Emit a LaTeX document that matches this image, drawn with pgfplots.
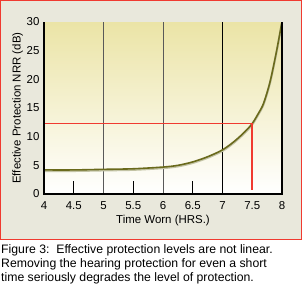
\documentclass[border=0pt]{standalone}
\usepackage{pgfplots}
\pgfplotsset{compat=1.18}
\usepackage{fontspec}
\setmainfont{Liberation Sans}
\definecolor{outerbg}{HTML}{E9E8DC}
\definecolor{plottop}{HTML}{EBE4A6}
\definecolor{curvecol}{HTML}{6A6A1C}
\definecolor{redl}{HTML}{F03A30}
\begin{document}
\begin{tikzpicture}[x=1bp,y=1bp]
\useasboundingbox (0,0) rectangle (302,-299);
\fill[white] (0,0) rectangle (302,-299);
\fill[outerbg] (0,0) rectangle (302,-240);
\draw[redl,line width=1.3bp] (0.65,-0.65) rectangle (301.35,-239.5);
\begin{axis}[
  at={(44bp,-194bp)}, anchor=south west,
  scale only axis, width=238bp, height=172bp,
  xmin=4, xmax=8, ymin=0, ymax=30,
  xtick={4,4.5,...,8}, ytick={0,5,...,30},
  xticklabels={4,4.5,5,5.5,6,6.5,7,7.5,8},
  yticklabels={0,5,10,15,20,25,30},
  major tick length=0pt,
  axis line style={draw=none},
  axis background/.style={top color=plottop, bottom color=white},
  tick label style={font=\fontsize{11.5}{13}\selectfont, text=black},
  xticklabel style={yshift=-4bp},
  yticklabel style={xshift=-1bp},
  xlabel={Time Worn (HRS.)},
  ylabel={Effective Protection NRR (dB)},
  label style={font=\fontsize{11.5}{13}\selectfont},
  xlabel style={yshift=1bp},
  ylabel style={yshift=-3bp},
  clip=false,
]
\addplot[gray!70!black, line width=0.8bp] coordinates {(5,0) (5,30)};
\addplot[gray!70!black, line width=0.8bp] coordinates {(6,0) (6,30)};
\addplot[black, line width=0.8bp] coordinates {(7,0) (7,30)};
\addplot[black, line width=0.8bp] coordinates {(4.5,0) (4.5,2.3)};
\addplot[black, line width=0.8bp] coordinates {(5.5,0) (5.5,2.3)};
\addplot[black, line width=0.8bp] coordinates {(6.5,0) (6.5,2.3)};
\addplot[curvecol!40, line width=2.2bp, smooth, yshift=-1bp] coordinates {
(4,4.2) (4.5,4.2) (5,4.3) (5.5,4.4) (6,4.7) (6.25,5.0) (6.5,5.6) (6.75,6.5) (7,7.7) (7.2,9.2) (7.38,10.9) (7.5,12.3) (7.6,14) (7.69,15.8) (7.8,19.6) (7.91,25) (7.995,29.8)};
\addplot[curvecol, line width=1.6bp, smooth] coordinates {
(4,4.2) (4.5,4.2) (5,4.3) (5.5,4.4) (6,4.7) (6.25,5.0) (6.5,5.6) (6.75,6.5) (7,7.7) (7.2,9.2) (7.38,10.9) (7.5,12.3) (7.6,14) (7.69,15.8) (7.8,19.6) (7.91,25) (7.995,29.8)};
\addplot[redl, line width=1.8bp] coordinates {(4,12.3) (7.5,12.3) (7.5,0.7)};
\draw[black, line width=2bp] (axis cs:4,30) -- (axis cs:4,0) -- (axis cs:8,0) -- (axis cs:8,30);
\end{axis}
\node[anchor=north west, inner sep=0pt, align=left, font=\fontsize{12.3}{14.5}\selectfont] at (1,-244) {Figure 3:\ \ Effective protection levels are not linear.\\Removing the hearing protection for even a short\\time seriously degrades the level of protection.};
\end{tikzpicture}
\end{document}
